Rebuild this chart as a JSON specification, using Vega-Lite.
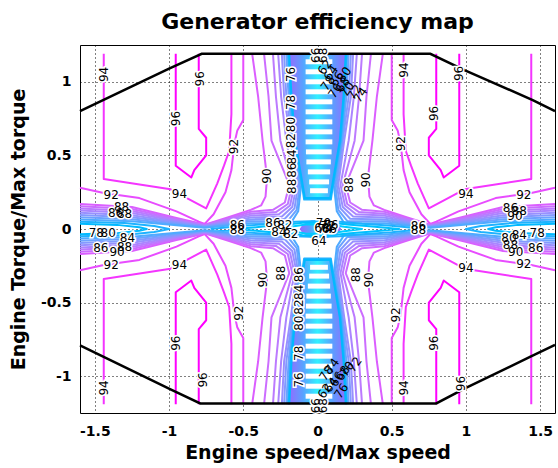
{
"$schema":"https://vega.github.io/schema/vega-lite/v6.json",
"width":475,"height":368,
"autosize":{"type":"none"},
"padding":{"left":80,"top":45,"right":3,"bottom":55},
"background":"white",
"title":{"text":"Generator efficiency map","font":"DejaVu Sans","fontSize":22,"fontWeight":"bold","color":"#000","anchor":"middle","offset":11},
"config":{"view":{"stroke":"#000","strokeWidth":1},"font":"DejaVu Sans",
 "axis":{"grid":true,"gridDash":[1,3],"gridColor":"#000","gridOpacity":1,"ticks":false,"domain":false,"labelFont":"DejaVu Sans","labelFontSize":14,"labelFontWeight":"bold","labelColor":"#000","titleFont":"DejaVu Sans","titleFontSize":19,"titleFontWeight":"bold","titleColor":"#000"}},
"datasets":{
"fill":[
{"p":"t","y":1.19,"x":-0.2,"x2":0.2},{"p":"t","y":0.9,"x":-0.18,"x2":0.18},{"p":"t","y":0.6,"x":-0.155,"x2":0.155},{"p":"t","y":0.4,"x":-0.125,"x2":0.125},{"p":"t","y":0.26,"x":-0.1,"x2":0.1},{"p":"t","y":0.2,"x":-0.09,"x2":0.09},
{"p":"b","y":-1.19,"x":-0.2,"x2":0.2},{"p":"b","y":-0.9,"x":-0.18,"x2":0.18},{"p":"b","y":-0.6,"x":-0.155,"x2":0.155},{"p":"b","y":-0.4,"x":-0.125,"x2":0.125},{"p":"b","y":-0.26,"x":-0.1,"x2":0.1},{"p":"b","y":-0.2,"x":-0.09,"x2":0.09},
{"p":"c","y":-0.06,"x":-0.04,"x2":0.07},{"p":"c","y":-0.03,"x":-0.1,"x2":0.14},{"p":"c","y":0,"x":-0.12,"x2":0.16},{"p":"c","y":0.03,"x":-0.1,"x2":0.14},{"p":"c","y":0.06,"x":-0.04,"x2":0.07}
],
"stripes":[
{"y":1.136,"x":-0.08,"x2":0.1},{"y":1.068,"x":-0.08,"x2":0.1},{"y":1.0,"x":-0.08,"x2":0.1},{"y":0.932,"x":-0.08,"x2":0.1},{"y":0.864,"x":-0.08,"x2":0.1},{"y":0.796,"x":-0.08,"x2":0.1},{"y":0.728,"x":-0.08,"x2":0.1},{"y":0.66,"x":-0.08,"x2":0.1},{"y":0.592,"x":-0.08,"x2":0.1},{"y":0.524,"x":-0.078,"x2":0.095},{"y":0.456,"x":-0.075,"x2":0.09},{"y":0.388,"x":-0.065,"x2":0.085},{"y":0.32,"x":-0.056,"x2":0.078},{"y":0.26,"x":-0.05,"x2":0.07},
{"y":-1.136,"x":-0.08,"x2":0.1},{"y":-1.068,"x":-0.08,"x2":0.1},{"y":-1.0,"x":-0.08,"x2":0.1},{"y":-0.932,"x":-0.08,"x2":0.1},{"y":-0.864,"x":-0.08,"x2":0.1},{"y":-0.796,"x":-0.08,"x2":0.1},{"y":-0.728,"x":-0.08,"x2":0.1},{"y":-0.66,"x":-0.08,"x2":0.1},{"y":-0.592,"x":-0.08,"x2":0.1},{"y":-0.524,"x":-0.078,"x2":0.095},{"y":-0.456,"x":-0.075,"x2":0.09},{"y":-0.388,"x":-0.065,"x2":0.085},{"y":-0.32,"x":-0.056,"x2":0.078},{"y":-0.26,"x":-0.05,"x2":0.07}
],
"lines":[
{"c":"a96","l":96,"x":-0.8,"y":1.19},{"c":"a96","l":96,"x":-0.8,"y":0.68},{"c":"a96","l":96,"x":-0.75,"y":0.62},{"c":"a96","l":96,"x":-0.75,"y":0.5},{"c":"a96","l":96,"x":-0.83,"y":0.4},{"c":"a96","l":96,"x":-0.85,"y":0.35},{"c":"a96","l":96,"x":-0.955,"y":0.43},{"c":"a96","l":96,"x":-0.955,"y":1.19},
{"c":"b96","l":96,"x":0.8,"y":1.19},{"c":"b96","l":96,"x":0.8,"y":0.68},{"c":"b96","l":96,"x":0.75,"y":0.62},{"c":"b96","l":96,"x":0.75,"y":0.5},{"c":"b96","l":96,"x":0.83,"y":0.4},{"c":"b96","l":96,"x":0.85,"y":0.35},{"c":"b96","l":96,"x":0.955,"y":0.43},{"c":"b96","l":96,"x":0.955,"y":1.19},
{"c":"c96","l":96,"x":-0.8,"y":-1.19},{"c":"c96","l":96,"x":-0.8,"y":-0.68},{"c":"c96","l":96,"x":-0.75,"y":-0.62},{"c":"c96","l":96,"x":-0.75,"y":-0.5},{"c":"c96","l":96,"x":-0.83,"y":-0.4},{"c":"c96","l":96,"x":-0.85,"y":-0.35},{"c":"c96","l":96,"x":-0.955,"y":-0.43},{"c":"c96","l":96,"x":-0.955,"y":-1.19},
{"c":"d96","l":96,"x":0.8,"y":-1.19},{"c":"d96","l":96,"x":0.8,"y":-0.68},{"c":"d96","l":96,"x":0.75,"y":-0.62},{"c":"d96","l":96,"x":0.75,"y":-0.5},{"c":"d96","l":96,"x":0.83,"y":-0.4},{"c":"d96","l":96,"x":0.85,"y":-0.35},{"c":"d96","l":96,"x":0.955,"y":-0.43},{"c":"d96","l":96,"x":0.955,"y":-1.19},
{"c":"a94","l":94,"x":-1.44,"y":1.19},{"c":"a94","l":94,"x":-1.44,"y":0.34},{"c":"a94","l":94,"x":-0.99,"y":0.27},{"c":"a94","l":94,"x":-0.88,"y":0.21},{"c":"a94","l":94,"x":-0.75,"y":0.14},{"c":"a94","l":94,"x":-0.675,"y":0.31},{"c":"a94","l":94,"x":-0.63,"y":0.43},{"c":"a94","l":94,"x":-0.595,"y":0.53},{"c":"a94","l":94,"x":-0.58,"y":0.78},{"c":"a94","l":94,"x":-0.58,"y":1.19},
{"c":"b94","l":94,"x":1.44,"y":1.19},{"c":"b94","l":94,"x":1.44,"y":0.34},{"c":"b94","l":94,"x":0.99,"y":0.27},{"c":"b94","l":94,"x":0.88,"y":0.21},{"c":"b94","l":94,"x":0.75,"y":0.14},{"c":"b94","l":94,"x":0.675,"y":0.31},{"c":"b94","l":94,"x":0.63,"y":0.43},{"c":"b94","l":94,"x":0.595,"y":0.53},{"c":"b94","l":94,"x":0.58,"y":0.78},{"c":"b94","l":94,"x":0.58,"y":1.19},
{"c":"c94","l":94,"x":-1.44,"y":-1.19},{"c":"c94","l":94,"x":-1.44,"y":-0.34},{"c":"c94","l":94,"x":-0.99,"y":-0.27},{"c":"c94","l":94,"x":-0.88,"y":-0.21},{"c":"c94","l":94,"x":-0.75,"y":-0.14},{"c":"c94","l":94,"x":-0.675,"y":-0.31},{"c":"c94","l":94,"x":-0.63,"y":-0.43},{"c":"c94","l":94,"x":-0.595,"y":-0.53},{"c":"c94","l":94,"x":-0.58,"y":-0.78},{"c":"c94","l":94,"x":-0.58,"y":-1.19},
{"c":"d94","l":94,"x":1.44,"y":-1.19},{"c":"d94","l":94,"x":1.44,"y":-0.34},{"c":"d94","l":94,"x":0.99,"y":-0.27},{"c":"d94","l":94,"x":0.88,"y":-0.21},{"c":"d94","l":94,"x":0.75,"y":-0.14},{"c":"d94","l":94,"x":0.675,"y":-0.31},{"c":"d94","l":94,"x":0.63,"y":-0.43},{"c":"d94","l":94,"x":0.595,"y":-0.53},{"c":"d94","l":94,"x":0.58,"y":-0.78},{"c":"d94","l":94,"x":0.58,"y":-1.19},
{"c":"a92","l":92,"x":-1.6,"y":0.28},{"c":"a92","l":92,"x":-1.44,"y":0.245},{"c":"a92","l":92,"x":-1.2,"y":0.21},{"c":"a92","l":92,"x":-0.95,"y":0.12},{"c":"a92","l":92,"x":-0.8,"y":0.05},{"c":"a92","l":92,"x":-0.76,"y":0.035},{"c":"a92","l":92,"x":-0.7,"y":0.1},{"c":"a92","l":92,"x":-0.62,"y":0.25},{"c":"a92","l":92,"x":-0.58,"y":0.4},{"c":"a92","l":92,"x":-0.56,"y":0.58},{"c":"a92","l":92,"x":-0.54,"y":0.67},{"c":"a92","l":92,"x":-0.5,"y":0.74},{"c":"a92","l":92,"x":-0.5,"y":1.19},
{"c":"b92","l":92,"x":1.6,"y":0.28},{"c":"b92","l":92,"x":1.44,"y":0.245},{"c":"b92","l":92,"x":1.2,"y":0.21},{"c":"b92","l":92,"x":0.95,"y":0.12},{"c":"b92","l":92,"x":0.8,"y":0.05},{"c":"b92","l":92,"x":0.76,"y":0.035},{"c":"b92","l":92,"x":0.7,"y":0.1},{"c":"b92","l":92,"x":0.62,"y":0.25},{"c":"b92","l":92,"x":0.58,"y":0.4},{"c":"b92","l":92,"x":0.56,"y":0.58},{"c":"b92","l":92,"x":0.54,"y":0.67},{"c":"b92","l":92,"x":0.5,"y":0.74},{"c":"b92","l":92,"x":0.5,"y":1.19},
{"c":"c92","l":92,"x":-1.6,"y":-0.28},{"c":"c92","l":92,"x":-1.44,"y":-0.245},{"c":"c92","l":92,"x":-1.2,"y":-0.21},{"c":"c92","l":92,"x":-0.95,"y":-0.12},{"c":"c92","l":92,"x":-0.8,"y":-0.05},{"c":"c92","l":92,"x":-0.76,"y":-0.035},{"c":"c92","l":92,"x":-0.7,"y":-0.1},{"c":"c92","l":92,"x":-0.62,"y":-0.25},{"c":"c92","l":92,"x":-0.58,"y":-0.4},{"c":"c92","l":92,"x":-0.56,"y":-0.58},{"c":"c92","l":92,"x":-0.54,"y":-0.67},{"c":"c92","l":92,"x":-0.5,"y":-0.74},{"c":"c92","l":92,"x":-0.5,"y":-1.19},
{"c":"d92","l":92,"x":1.6,"y":-0.28},{"c":"d92","l":92,"x":1.44,"y":-0.245},{"c":"d92","l":92,"x":1.2,"y":-0.21},{"c":"d92","l":92,"x":0.95,"y":-0.12},{"c":"d92","l":92,"x":0.8,"y":-0.05},{"c":"d92","l":92,"x":0.76,"y":-0.035},{"c":"d92","l":92,"x":0.7,"y":-0.1},{"c":"d92","l":92,"x":0.62,"y":-0.25},{"c":"d92","l":92,"x":0.58,"y":-0.4},{"c":"d92","l":92,"x":0.56,"y":-0.58},{"c":"d92","l":92,"x":0.54,"y":-0.67},{"c":"d92","l":92,"x":0.5,"y":-0.74},{"c":"d92","l":92,"x":0.5,"y":-1.19},
{"c":"a90","l":90,"x":-1.6,"y":0.17},{"c":"a90","l":90,"x":-1.25,"y":0.15},{"c":"a90","l":90,"x":-0.95,"y":0.075},{"c":"a90","l":90,"x":-0.76,"y":0.03},{"c":"a90","l":90,"x":-0.6,"y":0.08},{"c":"a90","l":90,"x":-0.45,"y":0.13},{"c":"a90","l":90,"x":-0.38,"y":0.16},{"c":"a90","l":90,"x":-0.35,"y":0.22},{"c":"a90","l":90,"x":-0.34,"y":0.35},{"c":"a90","l":90,"x":-0.37,"y":0.6},{"c":"a90","l":90,"x":-0.4,"y":0.9},{"c":"a90","l":90,"x":-0.44,"y":1.19},
{"c":"b90","l":90,"x":1.6,"y":0.17},{"c":"b90","l":90,"x":1.25,"y":0.15},{"c":"b90","l":90,"x":0.95,"y":0.075},{"c":"b90","l":90,"x":0.76,"y":0.03},{"c":"b90","l":90,"x":0.6,"y":0.08},{"c":"b90","l":90,"x":0.45,"y":0.13},{"c":"b90","l":90,"x":0.38,"y":0.16},{"c":"b90","l":90,"x":0.35,"y":0.22},{"c":"b90","l":90,"x":0.34,"y":0.35},{"c":"b90","l":90,"x":0.37,"y":0.6},{"c":"b90","l":90,"x":0.4,"y":0.9},{"c":"b90","l":90,"x":0.44,"y":1.19},
{"c":"c90","l":90,"x":-1.6,"y":-0.17},{"c":"c90","l":90,"x":-1.25,"y":-0.15},{"c":"c90","l":90,"x":-0.95,"y":-0.075},{"c":"c90","l":90,"x":-0.76,"y":-0.03},{"c":"c90","l":90,"x":-0.6,"y":-0.08},{"c":"c90","l":90,"x":-0.45,"y":-0.13},{"c":"c90","l":90,"x":-0.38,"y":-0.16},{"c":"c90","l":90,"x":-0.35,"y":-0.22},{"c":"c90","l":90,"x":-0.34,"y":-0.35},{"c":"c90","l":90,"x":-0.37,"y":-0.6},{"c":"c90","l":90,"x":-0.4,"y":-0.9},{"c":"c90","l":90,"x":-0.44,"y":-1.19},
{"c":"d90","l":90,"x":1.6,"y":-0.17},{"c":"d90","l":90,"x":1.25,"y":-0.15},{"c":"d90","l":90,"x":0.95,"y":-0.075},{"c":"d90","l":90,"x":0.76,"y":-0.03},{"c":"d90","l":90,"x":0.6,"y":-0.08},{"c":"d90","l":90,"x":0.45,"y":-0.13},{"c":"d90","l":90,"x":0.38,"y":-0.16},{"c":"d90","l":90,"x":0.35,"y":-0.22},{"c":"d90","l":90,"x":0.34,"y":-0.35},{"c":"d90","l":90,"x":0.37,"y":-0.6},{"c":"d90","l":90,"x":0.4,"y":-0.9},{"c":"d90","l":90,"x":0.44,"y":-1.19},
{"c":"a88","l":88,"x":-1.6,"y":0.155},{"c":"a88","l":88,"x":-1.25,"y":0.136},{"c":"a88","l":88,"x":-0.95,"y":0.068},{"c":"a88","l":88,"x":-0.76,"y":0.027},{"c":"a88","l":88,"x":-0.6,"y":0.072},{"c":"a88","l":88,"x":-0.45,"y":0.117},{"c":"a88","l":88,"x":-0.3,"y":0.13},{"c":"a88","l":88,"x":-0.22,"y":0.18},{"c":"a88","l":88,"x":-0.19,"y":0.3},{"c":"a88","l":88,"x":-0.31,"y":0.6},{"c":"a88","l":88,"x":-0.33,"y":0.9},{"c":"a88","l":88,"x":-0.36,"y":1.19},
{"c":"b88","l":88,"x":1.6,"y":0.155},{"c":"b88","l":88,"x":1.25,"y":0.136},{"c":"b88","l":88,"x":0.95,"y":0.068},{"c":"b88","l":88,"x":0.76,"y":0.027},{"c":"b88","l":88,"x":0.6,"y":0.072},{"c":"b88","l":88,"x":0.45,"y":0.117},{"c":"b88","l":88,"x":0.3,"y":0.13},{"c":"b88","l":88,"x":0.22,"y":0.18},{"c":"b88","l":88,"x":0.19,"y":0.3},{"c":"b88","l":88,"x":0.31,"y":0.6},{"c":"b88","l":88,"x":0.33,"y":0.9},{"c":"b88","l":88,"x":0.36,"y":1.19},
{"c":"c88","l":88,"x":-1.6,"y":-0.155},{"c":"c88","l":88,"x":-1.25,"y":-0.136},{"c":"c88","l":88,"x":-0.95,"y":-0.068},{"c":"c88","l":88,"x":-0.76,"y":-0.027},{"c":"c88","l":88,"x":-0.6,"y":-0.072},{"c":"c88","l":88,"x":-0.45,"y":-0.117},{"c":"c88","l":88,"x":-0.3,"y":-0.13},{"c":"c88","l":88,"x":-0.22,"y":-0.18},{"c":"c88","l":88,"x":-0.19,"y":-0.3},{"c":"c88","l":88,"x":-0.31,"y":-0.6},{"c":"c88","l":88,"x":-0.33,"y":-0.9},{"c":"c88","l":88,"x":-0.36,"y":-1.19},
{"c":"d88","l":88,"x":1.6,"y":-0.155},{"c":"d88","l":88,"x":1.25,"y":-0.136},{"c":"d88","l":88,"x":0.95,"y":-0.068},{"c":"d88","l":88,"x":0.76,"y":-0.027},{"c":"d88","l":88,"x":0.6,"y":-0.072},{"c":"d88","l":88,"x":0.45,"y":-0.117},{"c":"d88","l":88,"x":0.3,"y":-0.13},{"c":"d88","l":88,"x":0.22,"y":-0.18},{"c":"d88","l":88,"x":0.19,"y":-0.3},{"c":"d88","l":88,"x":0.31,"y":-0.6},{"c":"d88","l":88,"x":0.33,"y":-0.9},{"c":"d88","l":88,"x":0.36,"y":-1.19},
{"c":"a86","l":86,"x":-1.6,"y":0.14},{"c":"a86","l":86,"x":-1.25,"y":0.122},{"c":"a86","l":86,"x":-0.95,"y":0.061},{"c":"a86","l":86,"x":-0.76,"y":0.024},{"c":"a86","l":86,"x":-0.6,"y":0.064},{"c":"a86","l":86,"x":-0.45,"y":0.104},{"c":"a86","l":86,"x":-0.28,"y":0.115},{"c":"a86","l":86,"x":-0.2,"y":0.17},{"c":"a86","l":86,"x":-0.17,"y":0.3},{"c":"a86","l":86,"x":-0.25,"y":0.6},{"c":"a86","l":86,"x":-0.28,"y":0.9},{"c":"a86","l":86,"x":-0.3,"y":1.19},
{"c":"b86","l":86,"x":1.6,"y":0.14},{"c":"b86","l":86,"x":1.25,"y":0.122},{"c":"b86","l":86,"x":0.95,"y":0.061},{"c":"b86","l":86,"x":0.76,"y":0.024},{"c":"b86","l":86,"x":0.6,"y":0.064},{"c":"b86","l":86,"x":0.45,"y":0.104},{"c":"b86","l":86,"x":0.28,"y":0.115},{"c":"b86","l":86,"x":0.2,"y":0.17},{"c":"b86","l":86,"x":0.17,"y":0.3},{"c":"b86","l":86,"x":0.25,"y":0.6},{"c":"b86","l":86,"x":0.28,"y":0.9},{"c":"b86","l":86,"x":0.3,"y":1.19},
{"c":"c86","l":86,"x":-1.6,"y":-0.14},{"c":"c86","l":86,"x":-1.25,"y":-0.122},{"c":"c86","l":86,"x":-0.95,"y":-0.061},{"c":"c86","l":86,"x":-0.76,"y":-0.024},{"c":"c86","l":86,"x":-0.6,"y":-0.064},{"c":"c86","l":86,"x":-0.45,"y":-0.104},{"c":"c86","l":86,"x":-0.28,"y":-0.115},{"c":"c86","l":86,"x":-0.2,"y":-0.17},{"c":"c86","l":86,"x":-0.17,"y":-0.3},{"c":"c86","l":86,"x":-0.25,"y":-0.6},{"c":"c86","l":86,"x":-0.28,"y":-0.9},{"c":"c86","l":86,"x":-0.3,"y":-1.19},
{"c":"d86","l":86,"x":1.6,"y":-0.14},{"c":"d86","l":86,"x":1.25,"y":-0.122},{"c":"d86","l":86,"x":0.95,"y":-0.061},{"c":"d86","l":86,"x":0.76,"y":-0.024},{"c":"d86","l":86,"x":0.6,"y":-0.064},{"c":"d86","l":86,"x":0.45,"y":-0.104},{"c":"d86","l":86,"x":0.28,"y":-0.115},{"c":"d86","l":86,"x":0.2,"y":-0.17},{"c":"d86","l":86,"x":0.17,"y":-0.3},{"c":"d86","l":86,"x":0.25,"y":-0.6},{"c":"d86","l":86,"x":0.28,"y":-0.9},{"c":"d86","l":86,"x":0.3,"y":-1.19},
{"c":"a84","l":84,"x":-1.6,"y":0.125},{"c":"a84","l":84,"x":-1.25,"y":0.108},{"c":"a84","l":84,"x":-0.95,"y":0.054},{"c":"a84","l":84,"x":-0.76,"y":0.021},{"c":"a84","l":84,"x":-0.6,"y":0.056},{"c":"a84","l":84,"x":-0.45,"y":0.091},{"c":"a84","l":84,"x":-0.26,"y":0.1},{"c":"a84","l":84,"x":-0.185,"y":0.16},{"c":"a84","l":84,"x":-0.155,"y":0.3},{"c":"a84","l":84,"x":-0.21,"y":0.6},{"c":"a84","l":84,"x":-0.245,"y":0.9},{"c":"a84","l":84,"x":-0.265,"y":1.19},
{"c":"b84","l":84,"x":1.6,"y":0.125},{"c":"b84","l":84,"x":1.25,"y":0.108},{"c":"b84","l":84,"x":0.95,"y":0.054},{"c":"b84","l":84,"x":0.76,"y":0.021},{"c":"b84","l":84,"x":0.6,"y":0.056},{"c":"b84","l":84,"x":0.45,"y":0.091},{"c":"b84","l":84,"x":0.26,"y":0.1},{"c":"b84","l":84,"x":0.185,"y":0.16},{"c":"b84","l":84,"x":0.155,"y":0.3},{"c":"b84","l":84,"x":0.21,"y":0.6},{"c":"b84","l":84,"x":0.245,"y":0.9},{"c":"b84","l":84,"x":0.265,"y":1.19},
{"c":"c84","l":84,"x":-1.6,"y":-0.125},{"c":"c84","l":84,"x":-1.25,"y":-0.108},{"c":"c84","l":84,"x":-0.95,"y":-0.054},{"c":"c84","l":84,"x":-0.76,"y":-0.021},{"c":"c84","l":84,"x":-0.6,"y":-0.056},{"c":"c84","l":84,"x":-0.45,"y":-0.091},{"c":"c84","l":84,"x":-0.26,"y":-0.1},{"c":"c84","l":84,"x":-0.185,"y":-0.16},{"c":"c84","l":84,"x":-0.155,"y":-0.3},{"c":"c84","l":84,"x":-0.21,"y":-0.6},{"c":"c84","l":84,"x":-0.245,"y":-0.9},{"c":"c84","l":84,"x":-0.265,"y":-1.19},
{"c":"d84","l":84,"x":1.6,"y":-0.125},{"c":"d84","l":84,"x":1.25,"y":-0.108},{"c":"d84","l":84,"x":0.95,"y":-0.054},{"c":"d84","l":84,"x":0.76,"y":-0.021},{"c":"d84","l":84,"x":0.6,"y":-0.056},{"c":"d84","l":84,"x":0.45,"y":-0.091},{"c":"d84","l":84,"x":0.26,"y":-0.1},{"c":"d84","l":84,"x":0.185,"y":-0.16},{"c":"d84","l":84,"x":0.155,"y":-0.3},{"c":"d84","l":84,"x":0.21,"y":-0.6},{"c":"d84","l":84,"x":0.245,"y":-0.9},{"c":"d84","l":84,"x":0.265,"y":-1.19},
{"c":"a82","l":82,"x":-1.6,"y":0.11},{"c":"a82","l":82,"x":-1.25,"y":0.094},{"c":"a82","l":82,"x":-0.95,"y":0.047},{"c":"a82","l":82,"x":-0.76,"y":0.018},{"c":"a82","l":82,"x":-0.6,"y":0.048},{"c":"a82","l":82,"x":-0.45,"y":0.078},{"c":"a82","l":82,"x":-0.24,"y":0.085},{"c":"a82","l":82,"x":-0.17,"y":0.15},{"c":"a82","l":82,"x":-0.14,"y":0.3},{"c":"a82","l":82,"x":-0.18,"y":0.6},{"c":"a82","l":82,"x":-0.225,"y":0.9},{"c":"a82","l":82,"x":-0.24,"y":1.19},
{"c":"b82","l":82,"x":1.6,"y":0.11},{"c":"b82","l":82,"x":1.25,"y":0.094},{"c":"b82","l":82,"x":0.95,"y":0.047},{"c":"b82","l":82,"x":0.76,"y":0.018},{"c":"b82","l":82,"x":0.6,"y":0.048},{"c":"b82","l":82,"x":0.45,"y":0.078},{"c":"b82","l":82,"x":0.24,"y":0.085},{"c":"b82","l":82,"x":0.17,"y":0.15},{"c":"b82","l":82,"x":0.14,"y":0.3},{"c":"b82","l":82,"x":0.18,"y":0.6},{"c":"b82","l":82,"x":0.225,"y":0.9},{"c":"b82","l":82,"x":0.24,"y":1.19},
{"c":"c82","l":82,"x":-1.6,"y":-0.11},{"c":"c82","l":82,"x":-1.25,"y":-0.094},{"c":"c82","l":82,"x":-0.95,"y":-0.047},{"c":"c82","l":82,"x":-0.76,"y":-0.018},{"c":"c82","l":82,"x":-0.6,"y":-0.048},{"c":"c82","l":82,"x":-0.45,"y":-0.078},{"c":"c82","l":82,"x":-0.24,"y":-0.085},{"c":"c82","l":82,"x":-0.17,"y":-0.15},{"c":"c82","l":82,"x":-0.14,"y":-0.3},{"c":"c82","l":82,"x":-0.18,"y":-0.6},{"c":"c82","l":82,"x":-0.225,"y":-0.9},{"c":"c82","l":82,"x":-0.24,"y":-1.19},
{"c":"d82","l":82,"x":1.6,"y":-0.11},{"c":"d82","l":82,"x":1.25,"y":-0.094},{"c":"d82","l":82,"x":0.95,"y":-0.047},{"c":"d82","l":82,"x":0.76,"y":-0.018},{"c":"d82","l":82,"x":0.6,"y":-0.048},{"c":"d82","l":82,"x":0.45,"y":-0.078},{"c":"d82","l":82,"x":0.24,"y":-0.085},{"c":"d82","l":82,"x":0.17,"y":-0.15},{"c":"d82","l":82,"x":0.14,"y":-0.3},{"c":"d82","l":82,"x":0.18,"y":-0.6},{"c":"d82","l":82,"x":0.225,"y":-0.9},{"c":"d82","l":82,"x":0.24,"y":-1.19},
{"c":"a80","l":80,"x":-1.6,"y":0.095},{"c":"a80","l":80,"x":-1.25,"y":0.08},{"c":"a80","l":80,"x":-0.95,"y":0.04},{"c":"a80","l":80,"x":-0.76,"y":0.015},{"c":"a80","l":80,"x":-0.6,"y":0.04},{"c":"a80","l":80,"x":-0.45,"y":0.065},{"c":"a80","l":80,"x":-0.22,"y":0.07},{"c":"a80","l":80,"x":-0.155,"y":0.14},{"c":"a80","l":80,"x":-0.13,"y":0.3},{"c":"a80","l":80,"x":-0.17,"y":0.6},{"c":"a80","l":80,"x":-0.21,"y":0.9},{"c":"a80","l":80,"x":-0.225,"y":1.19},
{"c":"b80","l":80,"x":1.6,"y":0.095},{"c":"b80","l":80,"x":1.25,"y":0.08},{"c":"b80","l":80,"x":0.95,"y":0.04},{"c":"b80","l":80,"x":0.76,"y":0.015},{"c":"b80","l":80,"x":0.6,"y":0.04},{"c":"b80","l":80,"x":0.45,"y":0.065},{"c":"b80","l":80,"x":0.22,"y":0.07},{"c":"b80","l":80,"x":0.155,"y":0.14},{"c":"b80","l":80,"x":0.13,"y":0.3},{"c":"b80","l":80,"x":0.17,"y":0.6},{"c":"b80","l":80,"x":0.21,"y":0.9},{"c":"b80","l":80,"x":0.225,"y":1.19},
{"c":"c80","l":80,"x":-1.6,"y":-0.095},{"c":"c80","l":80,"x":-1.25,"y":-0.08},{"c":"c80","l":80,"x":-0.95,"y":-0.04},{"c":"c80","l":80,"x":-0.76,"y":-0.015},{"c":"c80","l":80,"x":-0.6,"y":-0.04},{"c":"c80","l":80,"x":-0.45,"y":-0.065},{"c":"c80","l":80,"x":-0.22,"y":-0.07},{"c":"c80","l":80,"x":-0.155,"y":-0.14},{"c":"c80","l":80,"x":-0.13,"y":-0.3},{"c":"c80","l":80,"x":-0.17,"y":-0.6},{"c":"c80","l":80,"x":-0.21,"y":-0.9},{"c":"c80","l":80,"x":-0.225,"y":-1.19},
{"c":"d80","l":80,"x":1.6,"y":-0.095},{"c":"d80","l":80,"x":1.25,"y":-0.08},{"c":"d80","l":80,"x":0.95,"y":-0.04},{"c":"d80","l":80,"x":0.76,"y":-0.015},{"c":"d80","l":80,"x":0.6,"y":-0.04},{"c":"d80","l":80,"x":0.45,"y":-0.065},{"c":"d80","l":80,"x":0.22,"y":-0.07},{"c":"d80","l":80,"x":0.155,"y":-0.14},{"c":"d80","l":80,"x":0.13,"y":-0.3},{"c":"d80","l":80,"x":0.17,"y":-0.6},{"c":"d80","l":80,"x":0.21,"y":-0.9},{"c":"d80","l":80,"x":0.225,"y":-1.19},
{"c":"a78","l":78,"x":-1.6,"y":0.08},{"c":"a78","l":78,"x":-1.25,"y":0.066},{"c":"a78","l":78,"x":-0.95,"y":0.033},{"c":"a78","l":78,"x":-0.76,"y":0.012},{"c":"a78","l":78,"x":-0.6,"y":0.032},{"c":"a78","l":78,"x":-0.45,"y":0.052},{"c":"a78","l":78,"x":-0.2,"y":0.055},{"c":"a78","l":78,"x":-0.14,"y":0.13},{"c":"a78","l":78,"x":-0.12,"y":0.3},{"c":"a78","l":78,"x":-0.165,"y":0.6},{"c":"a78","l":78,"x":-0.195,"y":0.9},{"c":"a78","l":78,"x":-0.21,"y":1.19},
{"c":"b78","l":78,"x":1.6,"y":0.08},{"c":"b78","l":78,"x":1.25,"y":0.066},{"c":"b78","l":78,"x":0.95,"y":0.033},{"c":"b78","l":78,"x":0.76,"y":0.012},{"c":"b78","l":78,"x":0.6,"y":0.032},{"c":"b78","l":78,"x":0.45,"y":0.052},{"c":"b78","l":78,"x":0.2,"y":0.055},{"c":"b78","l":78,"x":0.14,"y":0.13},{"c":"b78","l":78,"x":0.12,"y":0.3},{"c":"b78","l":78,"x":0.165,"y":0.6},{"c":"b78","l":78,"x":0.195,"y":0.9},{"c":"b78","l":78,"x":0.21,"y":1.19},
{"c":"c78","l":78,"x":-1.6,"y":-0.08},{"c":"c78","l":78,"x":-1.25,"y":-0.066},{"c":"c78","l":78,"x":-0.95,"y":-0.033},{"c":"c78","l":78,"x":-0.76,"y":-0.012},{"c":"c78","l":78,"x":-0.6,"y":-0.032},{"c":"c78","l":78,"x":-0.45,"y":-0.052},{"c":"c78","l":78,"x":-0.2,"y":-0.055},{"c":"c78","l":78,"x":-0.14,"y":-0.13},{"c":"c78","l":78,"x":-0.12,"y":-0.3},{"c":"c78","l":78,"x":-0.165,"y":-0.6},{"c":"c78","l":78,"x":-0.195,"y":-0.9},{"c":"c78","l":78,"x":-0.21,"y":-1.19},
{"c":"d78","l":78,"x":1.6,"y":-0.08},{"c":"d78","l":78,"x":1.25,"y":-0.066},{"c":"d78","l":78,"x":0.95,"y":-0.033},{"c":"d78","l":78,"x":0.76,"y":-0.012},{"c":"d78","l":78,"x":0.6,"y":-0.032},{"c":"d78","l":78,"x":0.45,"y":-0.052},{"c":"d78","l":78,"x":0.2,"y":-0.055},{"c":"d78","l":78,"x":0.14,"y":-0.13},{"c":"d78","l":78,"x":0.12,"y":-0.3},{"c":"d78","l":78,"x":0.165,"y":-0.6},{"c":"d78","l":78,"x":0.195,"y":-0.9},{"c":"d78","l":78,"x":0.21,"y":-1.19},
{"c":"a76","l":76,"x":-1.6,"y":0.065},{"c":"a76","l":76,"x":-1.25,"y":0.052},{"c":"a76","l":76,"x":-0.95,"y":0.026},{"c":"a76","l":76,"x":-0.76,"y":0.009},{"c":"a76","l":76,"x":-0.6,"y":0.024},{"c":"a76","l":76,"x":-0.45,"y":0.039},{"c":"a76","l":76,"x":-0.18,"y":0.04},{"c":"a76","l":76,"x":-0.13,"y":0.12},{"c":"a76","l":76,"x":-0.11,"y":0.3},{"c":"a76","l":76,"x":-0.16,"y":0.6},{"c":"a76","l":76,"x":-0.185,"y":0.9},{"c":"a76","l":76,"x":-0.2,"y":1.19},
{"c":"b76","l":76,"x":1.6,"y":0.065},{"c":"b76","l":76,"x":1.25,"y":0.052},{"c":"b76","l":76,"x":0.95,"y":0.026},{"c":"b76","l":76,"x":0.76,"y":0.009},{"c":"b76","l":76,"x":0.6,"y":0.024},{"c":"b76","l":76,"x":0.45,"y":0.039},{"c":"b76","l":76,"x":0.18,"y":0.04},{"c":"b76","l":76,"x":0.13,"y":0.12},{"c":"b76","l":76,"x":0.11,"y":0.3},{"c":"b76","l":76,"x":0.16,"y":0.6},{"c":"b76","l":76,"x":0.185,"y":0.9},{"c":"b76","l":76,"x":0.2,"y":1.19},
{"c":"c76","l":76,"x":-1.6,"y":-0.065},{"c":"c76","l":76,"x":-1.25,"y":-0.052},{"c":"c76","l":76,"x":-0.95,"y":-0.026},{"c":"c76","l":76,"x":-0.76,"y":-0.009},{"c":"c76","l":76,"x":-0.6,"y":-0.024},{"c":"c76","l":76,"x":-0.45,"y":-0.039},{"c":"c76","l":76,"x":-0.18,"y":-0.04},{"c":"c76","l":76,"x":-0.13,"y":-0.12},{"c":"c76","l":76,"x":-0.11,"y":-0.3},{"c":"c76","l":76,"x":-0.16,"y":-0.6},{"c":"c76","l":76,"x":-0.185,"y":-0.9},{"c":"c76","l":76,"x":-0.2,"y":-1.19},
{"c":"d76","l":76,"x":1.6,"y":-0.065},{"c":"d76","l":76,"x":1.25,"y":-0.052},{"c":"d76","l":76,"x":0.95,"y":-0.026},{"c":"d76","l":76,"x":0.76,"y":-0.009},{"c":"d76","l":76,"x":0.6,"y":-0.024},{"c":"d76","l":76,"x":0.45,"y":-0.039},{"c":"d76","l":76,"x":0.18,"y":-0.04},{"c":"d76","l":76,"x":0.13,"y":-0.12},{"c":"d76","l":76,"x":0.11,"y":-0.3},{"c":"d76","l":76,"x":0.16,"y":-0.6},{"c":"d76","l":76,"x":0.185,"y":-0.9},{"c":"d76","l":76,"x":0.2,"y":-1.19},
{"c":"t74","l":74,"x":-0.195,"y":1.19},{"c":"t74","l":74,"x":-0.18,"y":0.9},{"c":"t74","l":74,"x":-0.155,"y":0.6},{"c":"t74","l":74,"x":-0.105,"y":0.3},{"c":"t74","l":74,"x":-0.09,"y":0.2},{"c":"t74","l":74,"x":0.09,"y":0.2},{"c":"t74","l":74,"x":0.105,"y":0.3},{"c":"t74","l":74,"x":0.155,"y":0.6},{"c":"t74","l":74,"x":0.18,"y":0.9},{"c":"t74","l":74,"x":0.195,"y":1.19},
{"c":"t72","l":72,"x":-0.19,"y":1.19},{"c":"t72","l":72,"x":-0.175,"y":0.9},{"c":"t72","l":72,"x":-0.15,"y":0.6},{"c":"t72","l":72,"x":-0.1,"y":0.3},{"c":"t72","l":72,"x":-0.085,"y":0.21},{"c":"t72","l":72,"x":0.085,"y":0.21},{"c":"t72","l":72,"x":0.1,"y":0.3},{"c":"t72","l":72,"x":0.15,"y":0.6},{"c":"t72","l":72,"x":0.175,"y":0.9},{"c":"t72","l":72,"x":0.19,"y":1.19},
{"c":"u74","l":74,"x":-0.195,"y":-1.19},{"c":"u74","l":74,"x":-0.18,"y":-0.9},{"c":"u74","l":74,"x":-0.155,"y":-0.6},{"c":"u74","l":74,"x":-0.105,"y":-0.3},{"c":"u74","l":74,"x":-0.09,"y":-0.2},{"c":"u74","l":74,"x":0.09,"y":-0.2},{"c":"u74","l":74,"x":0.105,"y":-0.3},{"c":"u74","l":74,"x":0.155,"y":-0.6},{"c":"u74","l":74,"x":0.18,"y":-0.9},{"c":"u74","l":74,"x":0.195,"y":-1.19},
{"c":"u72","l":72,"x":-0.19,"y":-1.19},{"c":"u72","l":72,"x":-0.175,"y":-0.9},{"c":"u72","l":72,"x":-0.15,"y":-0.6},{"c":"u72","l":72,"x":-0.1,"y":-0.3},{"c":"u72","l":72,"x":-0.085,"y":-0.21},{"c":"u72","l":72,"x":0.085,"y":-0.21},{"c":"u72","l":72,"x":0.1,"y":-0.3},{"c":"u72","l":72,"x":0.15,"y":-0.6},{"c":"u72","l":72,"x":0.175,"y":-0.9},{"c":"u72","l":72,"x":0.19,"y":-1.19},
{"c":"lb74","l":74,"x":-1.6,"y":0.05},{"c":"lb74","l":74,"x":-1.3,"y":0.04},{"c":"lb74","l":74,"x":-1.1,"y":0.02},{"c":"lb74","l":74,"x":-1.0,"y":0},{"c":"lb74","l":74,"x":-1.1,"y":-0.02},{"c":"lb74","l":74,"x":-1.3,"y":-0.04},{"c":"lb74","l":74,"x":-1.6,"y":-0.05},
{"c":"lb72","l":72,"x":-1.6,"y":0.035},{"c":"lb72","l":72,"x":-1.35,"y":0.028},{"c":"lb72","l":72,"x":-1.2,"y":0.012},{"c":"lb72","l":72,"x":-1.15,"y":0},{"c":"lb72","l":72,"x":-1.2,"y":-0.012},{"c":"lb72","l":72,"x":-1.35,"y":-0.028},{"c":"lb72","l":72,"x":-1.6,"y":-0.035},
{"c":"rb74","l":74,"x":1.6,"y":0.05},{"c":"rb74","l":74,"x":1.3,"y":0.04},{"c":"rb74","l":74,"x":1.1,"y":0.02},{"c":"rb74","l":74,"x":1.0,"y":0},{"c":"rb74","l":74,"x":1.1,"y":-0.02},{"c":"rb74","l":74,"x":1.3,"y":-0.04},{"c":"rb74","l":74,"x":1.6,"y":-0.05},
{"c":"rb72","l":72,"x":1.6,"y":0.035},{"c":"rb72","l":72,"x":1.35,"y":0.028},{"c":"rb72","l":72,"x":1.2,"y":0.012},{"c":"rb72","l":72,"x":1.15,"y":0},{"c":"rb72","l":72,"x":1.2,"y":-0.012},{"c":"rb72","l":72,"x":1.35,"y":-0.028},{"c":"rb72","l":72,"x":1.6,"y":-0.035},
{"c":"k74","l":74,"x":-0.72,"y":0},{"c":"k74","l":74,"x":-0.5,"y":0.022},{"c":"k74","l":74,"x":-0.3,"y":0.035},{"c":"k74","l":74,"x":-0.15,"y":0.05},{"c":"k74","l":74,"x":0,"y":0.055},{"c":"k74","l":74,"x":0.15,"y":0.05},{"c":"k74","l":74,"x":0.3,"y":0.035},{"c":"k74","l":74,"x":0.5,"y":0.022},{"c":"k74","l":74,"x":0.72,"y":0},{"c":"k74","l":74,"x":0.5,"y":-0.022},{"c":"k74","l":74,"x":0.3,"y":-0.035},{"c":"k74","l":74,"x":0.15,"y":-0.05},{"c":"k74","l":74,"x":0,"y":-0.055},{"c":"k74","l":74,"x":-0.15,"y":-0.05},{"c":"k74","l":74,"x":-0.3,"y":-0.035},{"c":"k74","l":74,"x":-0.5,"y":-0.022},{"c":"k74","l":74,"x":-0.72,"y":0},
{"c":"k70","l":70,"x":-0.55,"y":0},{"c":"k70","l":70,"x":-0.35,"y":0.018},{"c":"k70","l":70,"x":-0.2,"y":0.03},{"c":"k70","l":70,"x":-0.1,"y":0.042},{"c":"k70","l":70,"x":0,"y":0.045},{"c":"k70","l":70,"x":0.1,"y":0.042},{"c":"k70","l":70,"x":0.2,"y":0.03},{"c":"k70","l":70,"x":0.35,"y":0.018},{"c":"k70","l":70,"x":0.55,"y":0},{"c":"k70","l":70,"x":0.35,"y":-0.018},{"c":"k70","l":70,"x":0.2,"y":-0.03},{"c":"k70","l":70,"x":0.1,"y":-0.042},{"c":"k70","l":70,"x":0,"y":-0.045},{"c":"k70","l":70,"x":-0.1,"y":-0.042},{"c":"k70","l":70,"x":-0.2,"y":-0.03},{"c":"k70","l":70,"x":-0.35,"y":-0.018},{"c":"k70","l":70,"x":-0.55,"y":0},
{"c":"k66","l":66,"x":-0.3,"y":0},{"c":"k66","l":66,"x":-0.18,"y":0.015},{"c":"k66","l":66,"x":-0.08,"y":0.03},{"c":"k66","l":66,"x":0,"y":0.033},{"c":"k66","l":66,"x":0.08,"y":0.03},{"c":"k66","l":66,"x":0.18,"y":0.015},{"c":"k66","l":66,"x":0.3,"y":0},{"c":"k66","l":66,"x":0.18,"y":-0.015},{"c":"k66","l":66,"x":0.08,"y":-0.03},{"c":"k66","l":66,"x":0,"y":-0.033},{"c":"k66","l":66,"x":-0.08,"y":-0.03},{"c":"k66","l":66,"x":-0.18,"y":-0.015},{"c":"k66","l":66,"x":-0.3,"y":0}
],
"bound":[
{"s":"u","x":-1.6,"y":0.8},{"s":"u","x":-1.0,"y":1.09},{"s":"u","x":-0.78,"y":1.19},{"s":"u","x":0.76,"y":1.19},{"s":"u","x":0.99,"y":1.08},{"s":"u","x":1.45,"y":0.876},{"s":"u","x":1.6,"y":0.8},
{"s":"d","x":-1.6,"y":-0.79},{"s":"d","x":-0.99,"y":-1.09},{"s":"d","x":-0.79,"y":-1.185},{"s":"d","x":0.8,"y":-1.185},{"s":"d","x":1.0,"y":-1.08},{"s":"d","x":1.435,"y":-0.867},{"s":"d","x":1.6,"y":-0.787}
],
"lv":[
{"t":"94","x":-1.44,"y":1.05},{"t":"96","x":-0.955,"y":0.75},{"t":"96","x":-0.79,"y":1.02},{"t":"92","x":-0.565,"y":0.56},{"t":"90","x":-0.34,"y":0.36},{"t":"76","x":-0.18,"y":1.05},{"t":"78","x":-0.18,"y":0.86},{"t":"80","x":-0.18,"y":0.71},{"t":"82","x":-0.18,"y":0.6},{"t":"84","x":-0.175,"y":0.49},{"t":"86","x":-0.17,"y":0.4},{"t":"88","x":-0.17,"y":0.29},
{"t":"94","x":0.58,"y":1.08},{"t":"96","x":0.953,"y":1.057},{"t":"96","x":0.785,"y":0.785},{"t":"92","x":0.56,"y":0.58},{"t":"90","x":0.325,"y":0.333},{"t":"88","x":0.213,"y":0.3},
{"t":"94","x":-1.436,"y":-1.08},{"t":"96","x":-0.953,"y":-0.776},{"t":"96","x":-0.774,"y":-1.025},{"t":"92","x":-0.527,"y":-0.572},{"t":"90","x":-0.37,"y":-0.346},{"t":"88","x":-0.247,"y":-0.3},{"t":"86","x":-0.125,"y":-0.31},{"t":"84","x":-0.125,"y":-0.43},{"t":"82","x":-0.125,"y":-0.53},{"t":"80","x":-0.125,"y":-0.64},{"t":"78","x":-0.125,"y":-0.844},{"t":"76","x":-0.125,"y":-1.025},
{"t":"88","x":0.258,"y":-0.31},{"t":"90","x":0.347,"y":-0.346},{"t":"92","x":0.527,"y":-0.584},{"t":"96","x":0.785,"y":-0.776},{"t":"94","x":0.583,"y":-1.08},{"t":"96","x":0.964,"y":-1.05},
{"t":"66","x":-0.01,"y":1.18},{"t":"68","x":0.04,"y":1.18},{"t":"66","x":-0.01,"y":-1.2},{"t":"68","x":0.04,"y":-1.2}
],
"lh":[
{"t":"92","x":-1.39,"y":0.23},{"t":"94","x":-0.93,"y":0.235},{"t":"94","x":1.0,"y":0.24},{"t":"92","x":1.39,"y":0.23},{"t":"92","x":-1.39,"y":-0.245},{"t":"94","x":-0.93,"y":-0.244},{"t":"94","x":1.0,"y":-0.265},{"t":"92","x":1.39,"y":-0.24},{"t":"64","x":0.01,"y":-0.08},
{"t":"88","x":-1.32,"y":0.15},{"t":"86","x":-1.36,"y":0.11},{"t":"88","x":-1.3,"y":0.1},{"t":"78","x":-1.49,"y":-0.03},{"t":"80","x":-1.41,"y":-0.03},{"t":"84","x":-1.28,"y":-0.06},{"t":"86","x":-1.46,"y":-0.13},{"t":"88","x":-1.3,"y":-0.12},{"t":"90","x":-1.35,"y":-0.155},
{"t":"86","x":1.3,"y":0.14},{"t":"88","x":1.36,"y":0.12},{"t":"90","x":1.33,"y":0.09},{"t":"80","x":1.29,"y":-0.06},{"t":"84","x":1.36,"y":-0.04},{"t":"78","x":1.48,"y":-0.03},{"t":"86","x":1.47,"y":-0.13},{"t":"88","x":1.3,"y":-0.11},{"t":"90","x":1.335,"y":-0.155},
{"t":"86","x":-0.54,"y":0.03},{"t":"88","x":-0.54,"y":-0.01},{"t":"86","x":0.68,"y":0.02},{"t":"88","x":0.68,"y":-0.01},
{"t":"86","x":-0.3,"y":0.04},{"t":"82","x":-0.22,"y":0.03},{"t":"84","x":-0.26,"y":-0.02},{"t":"82","x":-0.18,"y":-0.035},
{"t":"70","x":0.04,"y":0.04},{"t":"72","x":0.07,"y":0.02},{"t":"74","x":0.05,"y":0.0},{"t":"76","x":0.09,"y":0.03},{"t":"68","x":0.03,"y":0.01},{"t":"66","x":0.08,"y":0.0}
],
"ld":[
{"t":"62","x":0.05,"y":1.1},{"t":"64","x":0.09,"y":1.06},{"t":"66","x":0.13,"y":1.02},{"t":"68","x":0.17,"y":0.98},{"t":"70","x":0.2,"y":0.95},{"t":"72","x":0.25,"y":0.93},{"t":"74","x":0.29,"y":0.91},{"t":"76","x":0.12,"y":0.94},{"t":"78","x":0.07,"y":0.99},{"t":"80","x":0.18,"y":1.05},
{"t":"62","x":0.05,"y":-1.1},{"t":"64","x":0.09,"y":-1.06},{"t":"66","x":0.13,"y":-1.02},{"t":"68","x":0.17,"y":-0.98},{"t":"70","x":0.2,"y":-0.95},{"t":"72","x":0.25,"y":-0.92},{"t":"74","x":0.1,"y":-0.93},{"t":"76","x":0.16,"y":-1.1},{"t":"78","x":0.06,"y":-0.98}
]
},
"encoding":{
 "x":{"field":"x","type":"quantitative","scale":{"domain":[-1.6,1.6],"nice":false,"zero":false},
      "axis":{"title":"Engine speed/Max speed","values":[-1.5,-1,-0.5,0,0.5,1,1.5],"labelExpr":"toString(datum.value)","labelPadding":11,"titlePadding":5}},
 "y":{"field":"y","type":"quantitative","scale":{"domain":[-1.25,1.25],"nice":false,"zero":false},
      "axis":{"title":"Engine Torque/Max torque","values":[-1,-0.5,0,0.5,1],"labelExpr":"toString(datum.value)","labelPadding":9,"titlePadding":12}}
},
"layer":[
{"data":{"name":"fill"},
 "mark":{"type":"area","orient":"horizontal","color":{"gradient":"linear","x1":0,"y1":0,"x2":1,"y2":0,"stops":[{"offset":0,"color":"#9966ff"},{"offset":0.25,"color":"#5aa0ff"},{"offset":0.5,"color":"#30f0ff"},{"offset":0.75,"color":"#5aa0ff"},{"offset":1,"color":"#9966ff"}]}},
 "encoding":{"x2":{"field":"x2"},"detail":{"field":"p"}}},
{"data":{"name":"stripes"},
 "mark":{"type":"rule","color":"#ffffff","strokeWidth":5},
 "encoding":{"x2":{"field":"x2"}}},
{"data":{"name":"lines"},
 "mark":{"type":"line","strokeWidth":2,"strokeJoin":"round"},
 "encoding":{"detail":{"field":"c"},"order":{"value":null},
  "color":{"field":"l","type":"quantitative","scale":{"domain":[40,96],"range":["#00ffff","#ff00ff"]},"legend":null}}},
{"data":{"name":"bound"},
 "mark":{"type":"line","color":"#000","strokeWidth":2.5},
 "encoding":{"detail":{"field":"s"},"order":{"value":null}}},
{"data":{"name":"lv"},
 "mark":{"type":"text","angle":270,"font":"DejaVu Sans","fontSize":12,"color":"#fff","stroke":"#fff","strokeWidth":3},
 "encoding":{"text":{"field":"t"}}},
{"data":{"name":"lv"},
 "mark":{"type":"text","angle":270,"font":"DejaVu Sans","fontSize":12,"color":"#000"},
 "encoding":{"text":{"field":"t"}}},
{"data":{"name":"lh"},
 "mark":{"type":"text","font":"DejaVu Sans","fontSize":12,"color":"#fff","stroke":"#fff","strokeWidth":3},
 "encoding":{"text":{"field":"t"}}},
{"data":{"name":"lh"},
 "mark":{"type":"text","font":"DejaVu Sans","fontSize":12,"color":"#000"},
 "encoding":{"text":{"field":"t"}}},
{"data":{"name":"ld"},
 "mark":{"type":"text","angle":-55,"font":"DejaVu Sans","fontSize":12,"color":"#000"},
 "encoding":{"text":{"field":"t"}}}
]
}
